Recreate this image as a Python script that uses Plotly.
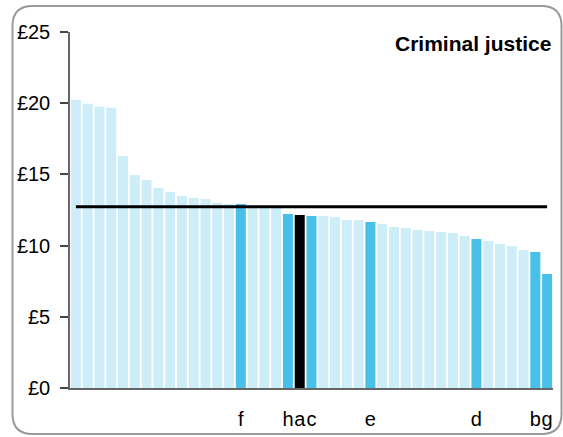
import plotly.graph_objects as go

# ---- data ----
positions = list(range(1, 42))
tick_labels = ["", "", "", "", "", "", "", "", "", "", "", "", "", "", "f",
               "", "", "", "h", "a", "c", "", "", "", "", "e", "", "", "", "",
               "", "", "", "", "d", "", "", "", "", "b", "g"]
values = [20.24, 19.96, 19.75, 19.68, 16.30, 14.96, 14.61, 14.05, 13.77, 13.49,
          13.34, 13.27, 12.99, 12.92, 12.92, 12.80, 12.75, 12.75, 12.22, 12.15,
          12.08, 12.08, 12.01, 11.80, 11.80, 11.66, 11.51, 11.30, 11.23, 11.09,
          11.02, 10.95, 10.88, 10.67, 10.46, 10.32, 10.11, 9.97, 9.69, 9.55, 8.00]
groups = ["o"] * 14 + ["h"] + ["o"] * 3 + ["h", "s", "h"] + ["o"] * 4 + ["h"] + \
         ["o"] * 8 + ["h"] + ["o"] * 4 + ["h", "h"]
mean_value = 12.73
y_ticks = [0, 5, 10, 15, 20, 25]
y_tick_text = ["£0", "£5", "£10", "£15", "£20", "£25"]

palette = {"o": "#CDEDF9", "h": "#48C0EA", "s": "#000000"}
bar_colors = [palette[g] for g in groups]

W, H = 563, 437
ml, mr, mt, mb = 70, 10, 32, 49
pw, ph = W - ml - mr, H - mt - mb

fig = go.Figure()
fig.add_trace(go.Bar(x=positions, y=values, marker=dict(color=bar_colors, line_width=0),
                     hoverinfo="x+y", showlegend=False))
fig.add_trace(go.Scatter(x=positions, y=[mean_value] * len(positions), mode="lines",
                         line=dict(color="#000000", width=3), showlegend=False))


def px(x):
    return (x - ml) / pw


def py(y):
    return (H - mb - y) / ph


# rounded border
L, T, R, B, r = 12.5, 6, 561.5, 434, 20
path = (f"M {px(L + r)},{py(T)} L {px(R - r)},{py(T)} Q {px(R)},{py(T)} {px(R)},{py(T + r)} "
        f"L {px(R)},{py(B - r)} Q {px(R)},{py(B)} {px(R - r)},{py(B)} "
        f"L {px(L + r)},{py(B)} Q {px(L)},{py(B)} {px(L)},{py(B - r)} "
        f"L {px(L)},{py(T + r)} Q {px(L)},{py(T)} {px(L + r)},{py(T)} Z")
fig.add_shape(type="path", xref="paper", yref="paper", path=path,
              line=dict(color="#9a9a9a", width=2), layer="below")

fig.add_annotation(text="<b>Criminal justice</b>", xref="paper", yref="paper",
                   x=px(553), y=py(44), xanchor="right", yanchor="middle",
                   showarrow=False, font=dict(size=21, color="#000000",
                                              family="Liberation Sans, Arial, sans-serif"))

fig.update_layout(
    width=W, height=H,
    margin=dict(l=ml, r=mr, t=mt, b=mb, autoexpand=False),
    paper_bgcolor="white", plot_bgcolor="white",
    bargap=0.15,
    font=dict(family="Liberation Sans, Arial, sans-serif", size=20, color="#000000"),
    xaxis=dict(range=[0.5, 41.5], tickmode="array", tickvals=positions, ticktext=tick_labels,
               tickangle=0, automargin=False, tickfont=dict(size=20),
               showgrid=False, zeroline=False, showline=True, linecolor="#666666", linewidth=1.5,
               ticks="", ticklabelstandoff=12, fixedrange=True),
    yaxis=dict(range=[0, 25], tickmode="array", tickvals=y_ticks, ticktext=y_tick_text,
               automargin=False, tickfont=dict(size=20),
               showgrid=False, zeroline=False, showline=True, linecolor="#666666", linewidth=1.5,
               ticks="outside", ticklen=8, tickcolor="#444444", tickwidth=1.5,
               ticklabelstandoff=6, fixedrange=True),
)

fig.write_html("out.html", config={"displayModeBar": False},
               post_script="document.body.style.margin='0';document.body.style.padding='0';")
